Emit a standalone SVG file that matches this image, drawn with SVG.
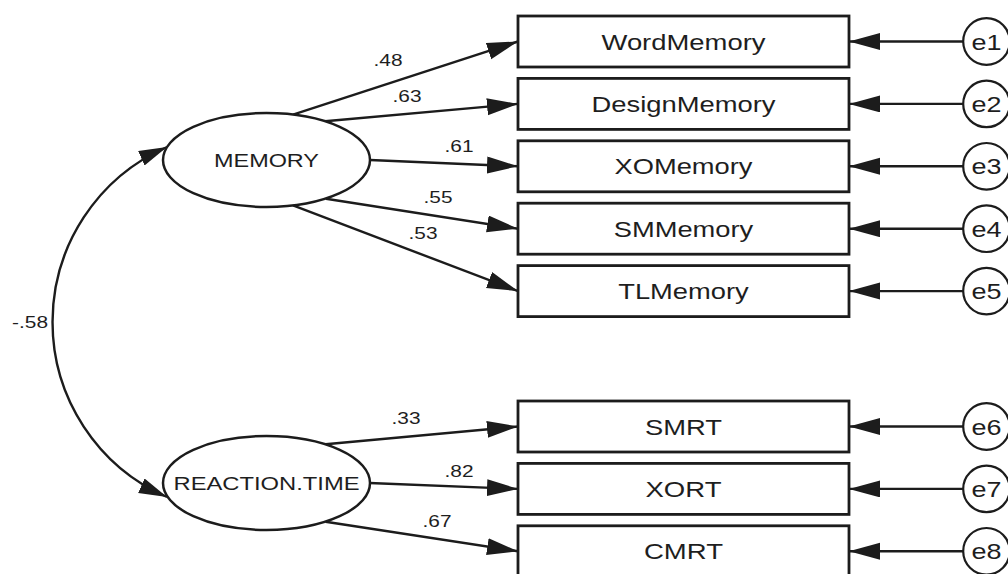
<svg xmlns="http://www.w3.org/2000/svg" width="1008" height="574" viewBox="0 0 1008 574">
  <style>
    .box { fill: #fff; stroke: #1c1c1c; stroke-width: 2.8; }
    .lat { fill: #fff; stroke: #1c1c1c; stroke-width: 2.5; }
    .err { fill: #fff; stroke: #1c1c1c; stroke-width: 2.2; }
    .edge { fill: none; stroke: #1c1c1c; stroke-width: 2.4; }
    text { font-family: "Liberation Sans", Arial, sans-serif; fill: #1e1e1e; }
    .lbl { font-size: 22px; text-anchor: middle; }
    .ltxt { font-size: 19px; text-anchor: middle; }
    .coef { font-size: 17px; text-anchor: middle; }
  </style>
  <defs>
    <marker id="arrow" markerUnits="userSpaceOnUse" markerWidth="32" markerHeight="18" refX="31" refY="8.5" orient="auto-start-reverse">
      <path d="M0,0 L31,8.5 L0,17 z" fill="#1c1c1c"/>
    </marker>
    <marker id="arrowC" markerUnits="userSpaceOnUse" markerWidth="30" markerHeight="18" refX="28" refY="8" orient="auto-start-reverse">
      <path d="M0,0 L28,8 L0,16 z" fill="#1c1c1c"/>
    </marker>
  </defs>

  <!-- connectors: loadings, error terms, covariance -->
  <g id="connectors">
    <line class="edge" x1="293" y1="114.6" x2="518" y2="41.5" marker-end="url(#arrow)"/>
    <line class="edge" x1="325" y1="121.2" x2="518" y2="103.9" marker-end="url(#arrow)"/>
    <line class="edge" x1="370" y1="160" x2="518" y2="166.3" marker-end="url(#arrow)"/>
    <line class="edge" x1="326" y1="198.8" x2="518" y2="228.7" marker-end="url(#arrow)"/>
    <line class="edge" x1="293" y1="205.4" x2="518" y2="291.1" marker-end="url(#arrow)"/>

    <line class="edge" x1="325.6" y1="444.2" x2="518" y2="426.5" marker-end="url(#arrow)"/>
    <line class="edge" x1="369.5" y1="483" x2="518" y2="488.9" marker-end="url(#arrow)"/>
    <line class="edge" x1="325.6" y1="521.8" x2="518" y2="551.3" marker-end="url(#arrow)"/>

    <line class="edge" x1="963" y1="41.5" x2="849" y2="41.5" marker-end="url(#arrow)"/>
    <line class="edge" x1="963" y1="103.9" x2="849" y2="103.9" marker-end="url(#arrow)"/>
    <line class="edge" x1="963" y1="166.3" x2="849" y2="166.3" marker-end="url(#arrow)"/>
    <line class="edge" x1="963" y1="228.7" x2="849" y2="228.7" marker-end="url(#arrow)"/>
    <line class="edge" x1="963" y1="291.1" x2="849" y2="291.1" marker-end="url(#arrow)"/>
    <line class="edge" x1="963" y1="426.5" x2="849" y2="426.5" marker-end="url(#arrow)"/>
    <line class="edge" x1="963" y1="488.9" x2="849" y2="488.9" marker-end="url(#arrow)"/>
    <line class="edge" x1="963" y1="551.3" x2="849" y2="551.3" marker-end="url(#arrow)"/>

    <path class="edge" d="M167,147 A191,191 0 0 0 167,497" marker-start="url(#arrowC)" marker-end="url(#arrowC)"/>

    <text class="coef" x="388" y="66" textLength="29" lengthAdjust="spacingAndGlyphs">.48</text>
    <text class="coef" x="407" y="102" textLength="29" lengthAdjust="spacingAndGlyphs">.63</text>
    <text class="coef" x="459" y="152" textLength="29" lengthAdjust="spacingAndGlyphs">.61</text>
    <text class="coef" x="438" y="203" textLength="29" lengthAdjust="spacingAndGlyphs">.55</text>
    <text class="coef" x="423" y="239" textLength="29" lengthAdjust="spacingAndGlyphs">.53</text>
    <text class="coef" x="406" y="424" textLength="29" lengthAdjust="spacingAndGlyphs">.33</text>
    <text class="coef" x="459" y="477" textLength="29" lengthAdjust="spacingAndGlyphs">.82</text>
    <text class="coef" x="437" y="527" textLength="29" lengthAdjust="spacingAndGlyphs">.67</text>
    <text class="coef" x="30" y="328" textLength="36" lengthAdjust="spacingAndGlyphs">-.58</text>
  </g>

  <!-- latent factors -->
  <g id="memory">
    <ellipse class="lat" cx="266.5" cy="160" rx="103.5" ry="47"/>
    <text class="ltxt" x="266.5" y="167" textLength="105" lengthAdjust="spacingAndGlyphs">MEMORY</text>
  </g>
  <g id="reaction-time">
    <ellipse class="lat" cx="266.5" cy="483" rx="103.5" ry="47"/>
    <text class="ltxt" x="266.5" y="490" textLength="186" lengthAdjust="spacingAndGlyphs">REACTION.TIME</text>
  </g>

  <!-- observed indicators -->
  <g id="word-memory">
    <rect class="box" x="518" y="16" width="331" height="51"/>
    <text class="lbl" x="683.5" y="49.5" textLength="164" lengthAdjust="spacingAndGlyphs">WordMemory</text>
  </g>
  <g id="design-memory">
    <rect class="box" x="518" y="78.4" width="331" height="51"/>
    <text class="lbl" x="683.5" y="111.9" textLength="184" lengthAdjust="spacingAndGlyphs">DesignMemory</text>
  </g>
  <g id="xo-memory">
    <rect class="box" x="518" y="140.8" width="331" height="51"/>
    <text class="lbl" x="683.5" y="174.3" textLength="138" lengthAdjust="spacingAndGlyphs">XOMemory</text>
  </g>
  <g id="sm-memory">
    <rect class="box" x="518" y="203.2" width="331" height="51"/>
    <text class="lbl" x="683.5" y="236.7" textLength="139.5" lengthAdjust="spacingAndGlyphs">SMMemory</text>
  </g>
  <g id="tl-memory">
    <rect class="box" x="518" y="265.6" width="331" height="51"/>
    <text class="lbl" x="683.5" y="299.1" textLength="130.5" lengthAdjust="spacingAndGlyphs">TLMemory</text>
  </g>
  <g id="smrt">
    <rect class="box" x="518" y="401" width="331" height="51"/>
    <text class="lbl" x="683.5" y="434.5" textLength="77" lengthAdjust="spacingAndGlyphs">SMRT</text>
  </g>
  <g id="xort">
    <rect class="box" x="518" y="463.4" width="331" height="51"/>
    <text class="lbl" x="683.5" y="496.9" textLength="76" lengthAdjust="spacingAndGlyphs">XORT</text>
  </g>
  <g id="cmrt">
    <rect class="box" x="518" y="525.8" width="331" height="51"/>
    <text class="lbl" x="683.5" y="559.3" textLength="79" lengthAdjust="spacingAndGlyphs">CMRT</text>
  </g>

  <!-- error terms -->
  <g id="e1"><circle class="err" cx="986.5" cy="41.5" r="23.3"/><text class="lbl" x="986.5" y="49.5" textLength="30" lengthAdjust="spacingAndGlyphs">e1</text></g>
  <g id="e2"><circle class="err" cx="986.5" cy="103.9" r="23.3"/><text class="lbl" x="986.5" y="111.9" textLength="30" lengthAdjust="spacingAndGlyphs">e2</text></g>
  <g id="e3"><circle class="err" cx="986.5" cy="166.3" r="23.3"/><text class="lbl" x="986.5" y="174.3" textLength="30" lengthAdjust="spacingAndGlyphs">e3</text></g>
  <g id="e4"><circle class="err" cx="986.5" cy="228.7" r="23.3"/><text class="lbl" x="986.5" y="236.7" textLength="30" lengthAdjust="spacingAndGlyphs">e4</text></g>
  <g id="e5"><circle class="err" cx="986.5" cy="291.1" r="23.3"/><text class="lbl" x="986.5" y="299.1" textLength="30" lengthAdjust="spacingAndGlyphs">e5</text></g>
  <g id="e6"><circle class="err" cx="986.5" cy="426.5" r="23.3"/><text class="lbl" x="986.5" y="434.5" textLength="30" lengthAdjust="spacingAndGlyphs">e6</text></g>
  <g id="e7"><circle class="err" cx="986.5" cy="488.9" r="23.3"/><text class="lbl" x="986.5" y="496.9" textLength="30" lengthAdjust="spacingAndGlyphs">e7</text></g>
  <g id="e8"><circle class="err" cx="986.5" cy="551.3" r="23.3"/><text class="lbl" x="986.5" y="559.3" textLength="30" lengthAdjust="spacingAndGlyphs">e8</text></g>
</svg>
